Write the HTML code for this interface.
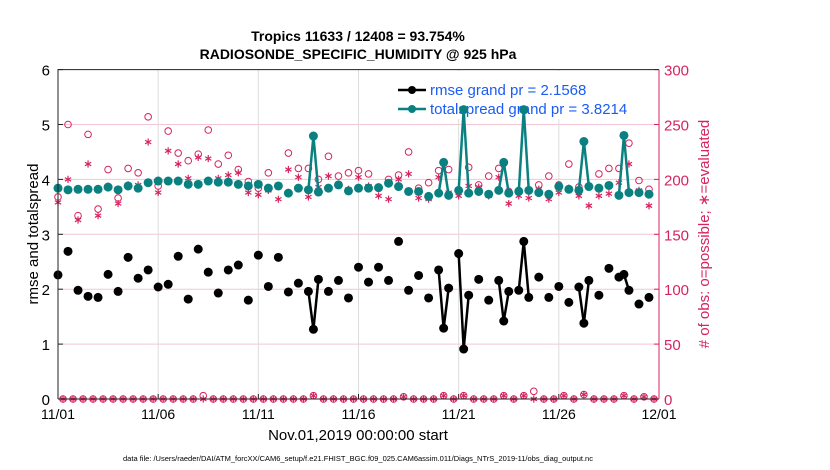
<!DOCTYPE html>
<html><head><meta charset="utf-8"><style>
body{margin:0;background:#fff;}
svg{display:block;font-family:"Liberation Sans",sans-serif;}
</style></head><body>
<svg id="chart" width="830" height="470" xmlns="http://www.w3.org/2000/svg">
<rect width="830" height="470" fill="#fff"/>
<g id="grid"></g>
<g id="legend"></g>
<g id="marks"></g>
<g id="axes"></g>
<text x="358" y="41" font-size="14" font-weight="bold" text-anchor="middle">Tropics 11633 / 12408 = 93.754%</text>
<text x="358" y="59" font-size="14" font-weight="bold" text-anchor="middle">RADIOSONDE_SPECIFIC_HUMIDITY @ 925 hPa</text>
<text x="358" y="440" font-size="15" text-anchor="middle">Nov.01,2019 00:00:00 start</text>
<text transform="translate(38,234) rotate(-90)" font-size="15" text-anchor="middle">rmse and totalspread</text>
<text transform="translate(709,234) rotate(-90)" font-size="15" text-anchor="middle" fill="#d6245f"># of obs: o=possible; ∗=evaluated</text>
<text x="358" y="461" font-size="7.5" text-anchor="middle">data file: /Users/raeder/DAI/ATM_forcXX/CAM6_setup/f.e21.FHIST_BGC.f09_025.CAM6assim.011/Diags_NTrS_2019-11/obs_diag_output.nc</text>
</svg>
<script>
const mainRmse=[2.26,2.69,1.98,1.87,1.85,2.27,1.96,2.58,2.20,2.35,2.04,2.09,2.60,1.82,2.73,2.31,1.93,2.35,2.44,1.80,2.62,2.05,2.58,1.95,2.11,1.96,2.18,1.96,2.16,1.84,
2.40,2.13,2.40,2.16,2.87,1.98,2.25,1.84,2.35,2.02,2.65,1.89,2.18,1.80,2.16,1.96,1.98,1.85,2.22,1.85,2.05,1.76,2.04,2.16,1.89,2.38,2.22,1.98,1.73,1.85];
const mainSpread=[3.84,3.81,3.82,3.82,3.82,3.86,3.81,3.88,3.84,3.94,3.97,3.97,3.97,3.91,3.91,3.97,3.95,3.95,3.91,3.88,3.91,3.84,3.88,3.75,3.84,3.81,3.77,3.84,3.90,3.79,
3.84,3.84,3.85,3.93,3.87,3.78,3.78,3.69,3.75,3.71,3.80,3.75,3.78,3.73,3.80,3.75,3.78,3.80,3.76,3.73,3.87,3.82,3.80,3.87,3.84,3.89,3.71,3.76,3.76,3.73];
const mainPossible=[184,250,167,241,173,209,183,210,206,257,194,244,224,217,223,245,214,222,209,198,192,206,194,224,210,210,200,221,203,206,
208,205,193,200,204,225,192,197,208,209,190,211,195,203,210,189,190,190,195,203,195,214,193,194,205,210,210,233,199,191];
const mainEvaluated=[179,200,163,214,167,194,178,195,195,234,188,226,214,201,220,219,201,204,206,188,186,190,182,209,202,184,193,203,195,191,
202,194,185,182,200,205,183,182,202,188,185,194,193,185,202,178,185,183,191,182,188,192,185,176,185,187,197,214,190,176];
const extraTimes=[12.75,19.25,20.25,22.25,23.25,26.25,28.25];
const extraRmse=[1.27,1.29,0.91,1.42,2.87,1.38,2.27];
const extraSpread=[4.79,4.31,5.27,4.31,5.27,4.69,4.80];
const quarterPossible=[0,0,0,0,0,0,0,0,0,0,0,0,0,0,3,0,0,0,0,0,0,0,0,0,0,3,0,0,0,0,
0,0,0,0,2,0,0,0,3,0,3,0,0,0,3,0,3,7,0,0,3,0,4,0,0,0,3,0,2,0];
const quarterEvaluated=[0,0,0,0,0,0,0,0,0,0,0,0,0,0,0,0,0,0,0,0,0,0,0,0,0,3,0,0,0,0,
0,0,0,0,2,0,0,0,3,0,3,0,0,0,3,0,3,0,0,0,3,0,4,0,0,0,3,0,2,0];
const xTickLabels=["11/01","11/06","11/11","11/16","11/21","11/26","12/01"];
const yTicks=[0,1,2,3,4,5,6];
const rTicks=[0,50,100,150,200,250,300];

const NS="http://www.w3.org/2000/svg";
const X0=58,X1=659,Y0=399,Y1=69.6;
const xs=t=>X0+(X1-X0)*t/30;
const ys=v=>Y0-(Y0-Y1)*v/6;
const yr=c=>Y0-(Y0-Y1)*c/300;
const MAG="#d6245f",TEAL="#0a8080";
function mk(tag,attrs,parent){const e=document.createElementNS(NS,tag);for(const k in attrs)e.setAttribute(k,attrs[k]);parent.appendChild(e);return e;}
const grid=document.getElementById('grid'),marks=document.getElementById('marks'),axes=document.getElementById('axes'),legend=document.getElementById('legend');

yTicks.forEach(v=>{if(v>0&&v<6){const l=mk('line',{x1:X0,x2:X1,y1:ys(v),y2:ys(v),stroke:'#f2c6d6','stroke-width':1},grid);

}});
xTickLabels.forEach((s,i)=>{const x=xs(i*5);if(i>0&&i<6){const l=mk('line',{x1:x,x2:x,y1:Y1,y2:Y0,stroke:'#dcdcdc','stroke-width':1},grid);

}
const tl=mk('line',{x1:x,x2:x,y1:Y0,y2:Y0-5,stroke:'#222'},axes);


const t=mk('text',{x:x,y:Y0+20,'font-size':14,'text-anchor':'middle'},axes);t.textContent=s;

});
yTicks.forEach(v=>{const tl=mk('line',{x1:X0,x2:X0+5,y1:ys(v),y2:ys(v),stroke:'#222'},axes);


const t=mk('text',{x:X0-8,y:ys(v)+6,'font-size':15,'text-anchor':'end'},axes);t.textContent=v;

});
rTicks.forEach(c=>{const tl=mk('line',{x1:X1,x2:X1-5,y1:yr(c),y2:yr(c),stroke:MAG},axes);


const t=mk('text',{x:X1+5,y:yr(c)+6,'font-size':15,fill:MAG},axes);t.textContent=c;

});
const fr=mk('path',{d:`M${X0} ${Y0}V${Y1}H${X1}`,fill:'none',stroke:'#222','stroke-width':1},axes);


const bx=mk('line',{x1:X0,x2:X1,y1:Y0,y2:Y0,stroke:'#222'},axes);


const ra=mk('line',{x1:X1,x2:X1,y1:Y0,y2:Y1,stroke:MAG},axes);



// legend (drawn under marks)
const lb=mk('rect',{x:386,y:71,width:266,height:48,fill:'#fff'},legend);


[["#000","rmse grand pr = 2.1568",95],[TEAL,"totalspread grand pr = 3.8214",114]].forEach(([c,s,y],i)=>{
  const l=mk('line',{x1:398,x2:426,y1:y-5,y2:y-5,stroke:c,'stroke-width':2.5},legend);
  
  
  const d=mk('circle',{cx:412,cy:y-5,r:4,fill:c},legend);
  
  
  const t=mk('text',{x:430,y:y,'font-size':15,fill:'#1a5cf5'},legend);t.textContent=s;
  
  
});

let pts=[];
mainRmse.forEach((r,i)=>pts.push({t:i*0.5,r:r,s:mainSpread[i]}));
extraTimes.forEach((t,i)=>pts.push({t:t,r:extraRmse[i],s:extraSpread[i]}));
pts.sort((a,b)=>a.t-b.t);
function series(key,color,name){
  for(let i=1;i<pts.length;i++){if(Math.abs(pts[i].t-pts[i-1].t-0.25)<1e-6){
    const l=mk('line',{x1:xs(pts[i-1].t),y1:ys(pts[i-1][key]),x2:xs(pts[i].t),y2:ys(pts[i][key]),stroke:color,'stroke-width':2.5},marks);
    
    }}
  pts.forEach(p=>{const c=mk('circle',{cx:xs(p.t),cy:ys(p[key]),r:4.5,fill:color},marks);
    
    });
}
function circ(t,c){const e=mk('circle',{cx:xs(t),cy:yr(c),r:3.3,fill:'none',stroke:MAG,'stroke-width':1},marks);

}
function star(t,c){const x=xs(t),y=yr(c),r=3.6;
let d=`M${x} ${y-r}V${y+r}`;
[30,150].forEach(a=>{const dx=r*Math.cos(a*Math.PI/180),dy=r*Math.sin(a*Math.PI/180);d+=`M${x-dx} ${y-dy}L${x+dx} ${y+dy}`;});
const e=mk('path',{d:d,stroke:MAG,'stroke-width':1.2,fill:'none'},marks);

}
mainPossible.forEach((c,i)=>circ(i*0.5,c));
quarterPossible.forEach((c,i)=>circ(0.25+i*0.5,c));
mainEvaluated.forEach((c,i)=>star(i*0.5,c));
quarterEvaluated.forEach((c,i)=>star(0.25+i*0.5,c));
series('s',TEAL,'totalspread');
series('r','#000','rmse');
</script>
</body></html>
